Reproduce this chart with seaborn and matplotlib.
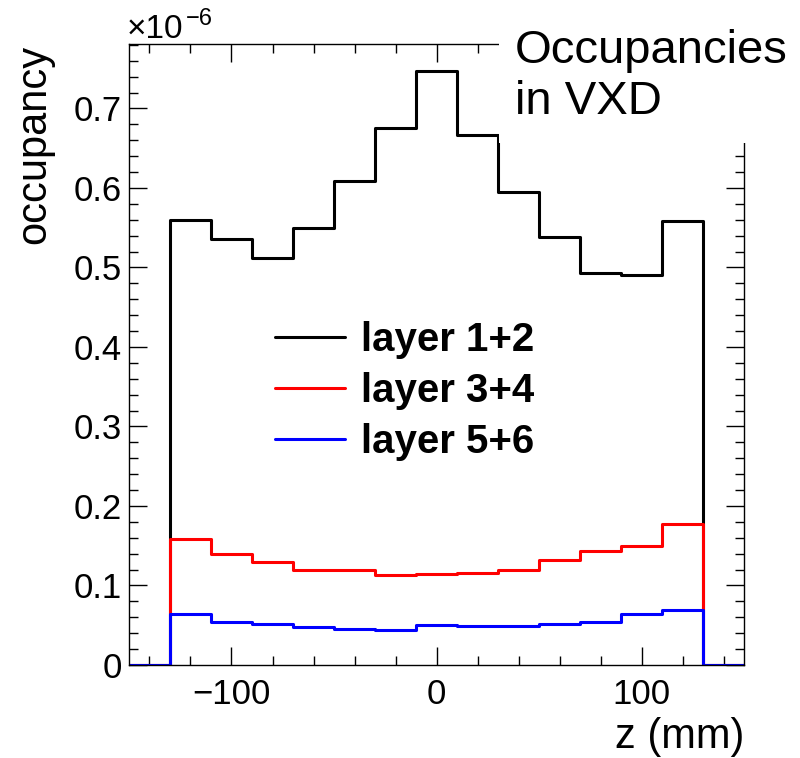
import numpy as np
import pandas as pd
import matplotlib
matplotlib.use("Agg")
import matplotlib.pyplot as plt
from matplotlib.patches import Rectangle
from matplotlib.ticker import MultipleLocator, FuncFormatter
import seaborn as sns

# z bins (mm), 20 mm wide, outermost bins are empty
bin_edges = [-150, -130, -110, -90, -70, -50, -30, -10, 10, 30, 50, 70, 90, 110, 130, 150]

# occupancy per bin, in units of 1e-6
layer12 = [0.0, 0.560, 0.536, 0.512, 0.549, 0.609, 0.675, 0.747, 0.667, 0.595, 0.538, 0.493, 0.491, 0.558, 0.0]
layer34 = [0.0, 0.158, 0.140, 0.130, 0.119, 0.119, 0.113, 0.114, 0.116, 0.120, 0.132, 0.143, 0.150, 0.177, 0.0]
layer56 = [0.0, 0.064, 0.054, 0.052, 0.048, 0.0457, 0.044, 0.050, 0.0495, 0.0495, 0.051, 0.054, 0.0645, 0.069, 0.0]

series_labels = ["layer 1+2", "layer 3+4", "layer 5+6"]
series_colors = ["#000000", "#ff0000", "#0000ff"]

sns.set_style("ticks")
plt.rcParams["font.family"] = ["Liberation Sans", "DejaVu Sans"]
plt.rcParams["text.color"] = "black"
plt.rcParams["axes.labelcolor"] = "black"
plt.rcParams["xtick.color"] = "black"
plt.rcParams["ytick.color"] = "black"

edges = np.array(bin_edges, dtype=float)
centers = (edges[:-1] + edges[1:]) / 2

fig = plt.figure(figsize=(8.0, 7.58), dpi=100)
ax = fig.add_axes([129 / 800, 1 - 665 / 758, (744 - 129) / 800, (665 - 44) / 758])

for vals, lab, col in zip([layer12, layer34, layer56], series_labels, series_colors):
    df = pd.DataFrame({"z": centers, "occ": vals})
    sns.histplot(data=df, x="z", weights="occ", binwidth=20,
                 binrange=(bin_edges[0], bin_edges[-1]), element="step",
                 fill=False, color=col, linewidth=2.2, label=lab, ax=ax)

ax.set_xlim(-150, 150)
ax.set_ylim(0, 0.781)

ax.xaxis.set_major_locator(MultipleLocator(100))
ax.xaxis.set_minor_locator(MultipleLocator(20))
ax.yaxis.set_major_locator(MultipleLocator(0.1))
ax.yaxis.set_minor_locator(MultipleLocator(0.02))
ax.yaxis.set_major_formatter(FuncFormatter(lambda v, p: "0" if abs(v) < 1e-9 else f"{v:.1f}"))

ax.tick_params(which="both", direction="in", top=True, right=True,
               width=1.0, colors="black", labelcolor="black", labelsize=25)
ax.tick_params(which="major", length=13)
ax.tick_params(which="minor", length=6.5)
ax.tick_params(axis="x", which="major", pad=9)
ax.tick_params(axis="y", which="major", pad=5)
for sp in ax.spines.values():
    sp.set_linewidth(1.0)
    sp.set_color("black")

ax.set_xlabel("")
ax.set_ylabel("")
fig.text(744 / 800, 1 - 757 / 758, "z (mm)", ha="right", va="bottom", fontsize=30, color="black")
fig.text(14 / 800, 1 - 45 / 758, "occupancy", rotation=90, ha="left", va="top",
         fontsize=30, color="black")

# axis scale factor drawn above the frame
fig.text(127 / 800, 1 - 38 / 758, "\u00d710", ha="left", va="baseline", fontsize=24, color="black")
fig.text(186 / 800, 1 - 25 / 758, "\u22126", ha="left", va="baseline", fontsize=17, color="black")

leg = ax.legend(loc="upper left", bbox_to_anchor=(275 / 800, 1 - 321 / 758),
                bbox_transform=fig.transFigure, frameon=False, borderpad=0, borderaxespad=0,
                handlelength=1.74, handletextpad=0.4, labelspacing=0.32,
                prop={"weight": "bold", "size": 29})
for t in leg.get_texts():
    t.set_color("black")

# title box sitting over the upper right corner of the frame
fig.patches.append(Rectangle((499 / 800, 1 - 143 / 758), 1 - 499 / 800, 143 / 758,
                             transform=fig.transFigure, facecolor="white",
                             edgecolor="none", zorder=5))
fig.text(515 / 800, 1 - 29 / 758, "Occupancies\nin VXD", ha="left", va="top",
         fontsize=34, linespacing=1.22, zorder=6, color="black")

fig.savefig("out.png", dpi=100)
